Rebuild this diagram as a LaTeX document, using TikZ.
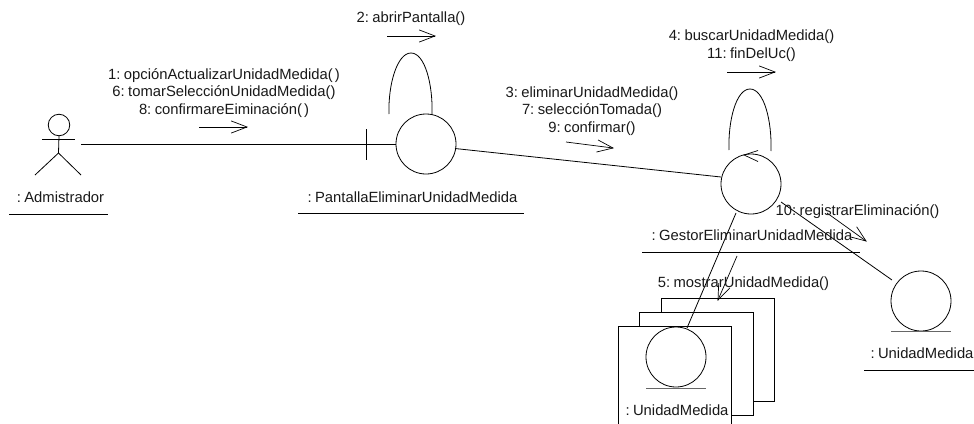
\documentclass[tikz,border=0pt]{standalone}
\usepackage{fontspec}
\usetikzlibrary{calc}
\setmainfont[WordSpace=0.5]{Liberation Sans}
\begin{document}
\begin{tikzpicture}[x=1pt,y=-1pt,line width=0.8pt,
  lab/.style={inner sep=0pt,align=center,font=\fontsize{14.8}{17.5}\selectfont,text=black!90},
  obj/.style={circle,draw,minimum size=60pt,inner sep=0pt,outer sep=0pt},
  under/.style={line width=0.8pt},
  ground/.style={line width=0.8pt,draw=black!60},
  box/.style={draw,fill=white,line width=0.8pt},
  msg/.style={line width=0.7pt}]
\useasboundingbox (0,0) rectangle (974,423);
% multi-object stack
\draw[box] (661,298) rectangle (774,401);
\draw[box] (639.5,312) rectangle (753,415);
\draw[box] (618,326) rectangle (731.5,430);
% objects
\node[obj] (pant) at (426,144) {};
\node[obj] (gest) at (751,184) {};
\node[obj] (um1) at (676,357) {};
\node[obj] (um2) at (921,301) {};
\draw[ground] (646,388) -- (706,388);
\draw[ground] (891,331) -- (951,331);
% actor
\node[circle,draw,minimum size=21.5pt,inner sep=0pt,outer sep=0pt] (head) at (59,125) {};
\coordinate (hip) at (58.5,153);
\coordinate (armL) at (42,139);
\coordinate (armR) at (75,139);
\coordinate (legL) at (35,175);
\coordinate (legR) at (81,175);
\draw (head.south) -- (hip) -- (legL);
\draw (hip) -- (legR);
\draw (armL) -- (armR);
% boundary tick
\coordinate (tickT) at (366,129);
\coordinate (tickB) at (366,160);
\draw (tickT) -- (tickB);
% links
\coordinate (actEnd) at (81,144);
\draw (actEnd) -- (pant.west);
\coordinate (l1a) at (455,148.5);
\coordinate (l1b) at (721,177);
\draw (l1a) -- (l1b);
\coordinate (l2a) at (736,213);
\coordinate (l2b) at (687,328);
\draw (l2a) -- (l2b);
\coordinate (l3a) at (781,202);
\coordinate (l3b) at (892,280);
\draw (l3a) -- (l3b);
% self loops
\coordinate (sa) at (389,114);
\coordinate (sb) at (432,114);
\coordinate (st) at (411,53);
\draw (sa) .. controls (388,85) and (397,53) .. (st) .. controls (425,53) and (433,85) .. (sb);
\coordinate (ga) at (729,150);
\coordinate (gb) at (771,151);
\coordinate (gt) at (750,89);
\draw (ga) .. controls (728,121) and (736,89) .. (gt) .. controls (764,89) and (772,121) .. (gb);
% message arrows
\newcommand{\msgarrow}[4]{%
  \coordinate (ms) at (#1,#2); \coordinate (me) at (#3,#4);
  \draw[msg] (ms) -- (me);
  \draw[msg] ($(me)!17pt!21:(ms)$) -- (me) -- ($(me)!17pt!-21:(ms)$);}
\msgarrow{199}{127}{247}{127}
\msgarrow{387}{36}{435}{36}
\msgarrow{566}{142}{613}{148}
\msgarrow{727}{72}{775}{72}
\msgarrow{737}{256}{718}{300}
\msgarrow{827}{213}{866}{241}
\coordinate (tipg) at (744,155);
\coordinate (bg1) at (758,161.5);
\coordinate (bg2) at (758,150.5);
\draw[msg] (bg1) -- (tipg) -- (bg2);
% labels
\node[lab] (t1) at (224,93) {1: opciónActualizarUnidadMedida( )\\6: tomarSelecciónUnidadMedida()\\8: confirmareEiminación( )};
\node[lab] (t2) at (411,19) {2: abrirPantalla()};
\node[lab] (t3) at (592,111) {3: eliminarUnidadMedida()\\7: selecciónTomada()\\9: confirmar()};
\node[lab] (t4) at (751.5,45.5) {4: buscarUnidadMedida()\\11: finDelUc()};
\node[lab] (t5) at (743.5,284) {5: mostrarUnidadMedida()};
\node[lab] (t10) at (857.5,212) {10: registrarEliminación()};
\node[lab] (n1) at (60.5,197) {: Admistrador};
\draw[under] (9,214) -- (108,214);
\node[lab] (n2) at (412.5,197) {: PantallaEliminarUnidadMedida};
\draw[under] (298,213) -- (524,213);
\node[lab] (n3) at (752,235) {: GestorEliminarUnidadMedida};
\draw[under] (642,252) -- (860,252);
\node[lab] (n4) at (922,353) {: UnidadMedida};
\draw[under] (864,370) -- (974,370);
\node[lab] (n5) at (677,410) {: UnidadMedida};
\end{tikzpicture}
\end{document}
